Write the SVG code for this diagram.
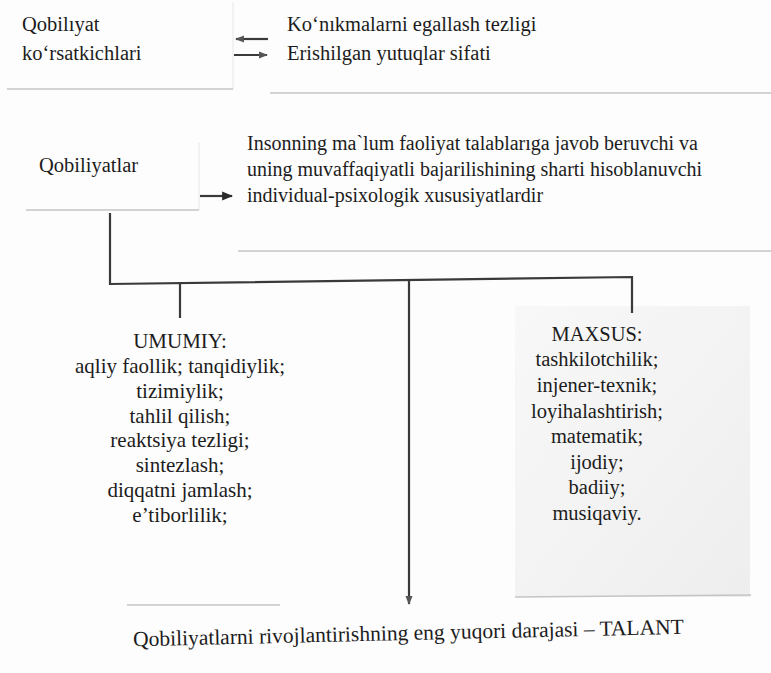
<svg xmlns="http://www.w3.org/2000/svg" width="771" height="673" viewBox="0 0 771 673" font-family="Liberation Serif, Times New Roman, serif" font-size="20">
<defs>
<style>
text{fill:#1c1c1c}
.c{text-anchor:middle}
.edge{stroke:#c4c4c4;stroke-width:1.5;fill:none}
.faint{stroke:#e6e6e6;stroke-width:1;fill:none}
.conn{stroke:#3a3a3a;stroke-width:2.2;fill:none}
</style>
<marker id="ah" viewBox="0 0 10 10" refX="9" refY="5" markerWidth="5" markerHeight="5" orient="auto" markerUnits="strokeWidth">
<path d="M0,1 L10,5 L0,9 z" fill="#2a2a2a"/>
</marker>
<marker id="ahg" viewBox="0 0 10 10" refX="9" refY="5" markerWidth="4" markerHeight="4" orient="auto" markerUnits="strokeWidth">
<path d="M0,1 L10,5 L0,9 z" fill="#555"/>
</marker>
<linearGradient id="gbox" x1="0" y1="0" x2="1" y2="1">
<stop offset="0" stop-color="#f8f8f8"/>
<stop offset="1" stop-color="#eeeeee"/>
</linearGradient>
</defs>
<rect width="771" height="673" fill="#fdfdfd"/>

<g id="node-korsatkichlar" font-size="20.5">
<path class="faint" d="M233,2 V89"/>
<path class="edge" d="M7,89 H233"/>
<text x="22" y="31">Qobilıyat</text>
<text x="22" y="60">ko‘rsatkichlari</text>
</g>

<g id="node-tezlik" font-size="20.5">
<path class="edge" d="M270,93 H771"/>
<text x="287" y="31">Ko‘nıkmalarni egallash tezligi</text>
<text x="287" y="60">Erishilgan yutuqlar sifati</text>
</g>

<g id="node-qobiliyatlar" font-size="20.5">
<path class="faint" d="M199,143 V210"/>
<path class="edge" d="M26,210 H199"/>
<text x="39" y="172">Qobiliyatlar</text>
</g>

<g id="node-tarif" font-size="20">
<path class="edge" d="M238,251 H771"/>
<text x="247" y="150">Insonning ma`lum faoliyat talablarıga javob beruvchi va</text>
<text x="247" y="176">uning muvaffaqiyatli bajarilishining sharti hisoblanuvchi</text>
<text x="247" y="202">individual-psixologik xususiyatlardir</text>
</g>

<g id="node-umumiy" font-size="21">
<path class="edge" d="M127,605 H280" stroke="#dadada"/>
<text class="c" x="180" y="348">UMUMIY:</text>
<text class="c" x="180" y="373">aqliy faollik; tanqidiylik;</text>
<text class="c" x="180" y="398">tizimiylik;</text>
<text class="c" x="180" y="423">tahlil qilish;</text>
<text class="c" x="180" y="447">reaktsiya tezligi;</text>
<text class="c" x="180" y="472">sintezlash;</text>
<text class="c" x="180" y="497">diqqatni jamlash;</text>
<text class="c" x="180" y="522">e’tiborlilik;</text>
</g>

<g id="node-maxsus" font-size="20.5">
<rect x="515" y="306" width="235" height="291" fill="url(#gbox)"/>
<path class="edge" d="M515,597 L751,595"/>
<text class="c" x="597" y="341">MAXSUS:</text>
<text class="c" x="597" y="366">tashkilotchilik;</text>
<text class="c" x="597" y="392">injener-texnik;</text>
<text class="c" x="597" y="418">loyihalashtirish;</text>
<text class="c" x="597" y="443">matematik;</text>
<text class="c" x="597" y="469">ijodiy;</text>
<text class="c" x="597" y="494">badiiy;</text>
<text class="c" x="597" y="520">musiqaviy.</text>
</g>

<g id="node-talant" font-size="21.5">
<text x="133" y="640" transform="rotate(-1.3 408 634)">Qobiliyatlarni rivojlantirishning eng yuqori darajasi – TALANT</text>
</g>

<g id="connectors">
<path class="conn" stroke-width="1.6" d="M268,39 H236" marker-end="url(#ahg)" stroke="#666"/>
<path class="conn" stroke-width="1.6" d="M234,55 H267" marker-end="url(#ahg)" stroke="#555"/>
<path class="conn" stroke-width="1.8" d="M200,196 H232" marker-end="url(#ah)"/>
<path class="conn" d="M110,213 V284 L632,277 V313"/>
<path class="conn" d="M180,284 V318"/>
<path class="conn" stroke="#666" d="M409,281 V604" marker-end="url(#ahg)"/>
</g>
</svg>
